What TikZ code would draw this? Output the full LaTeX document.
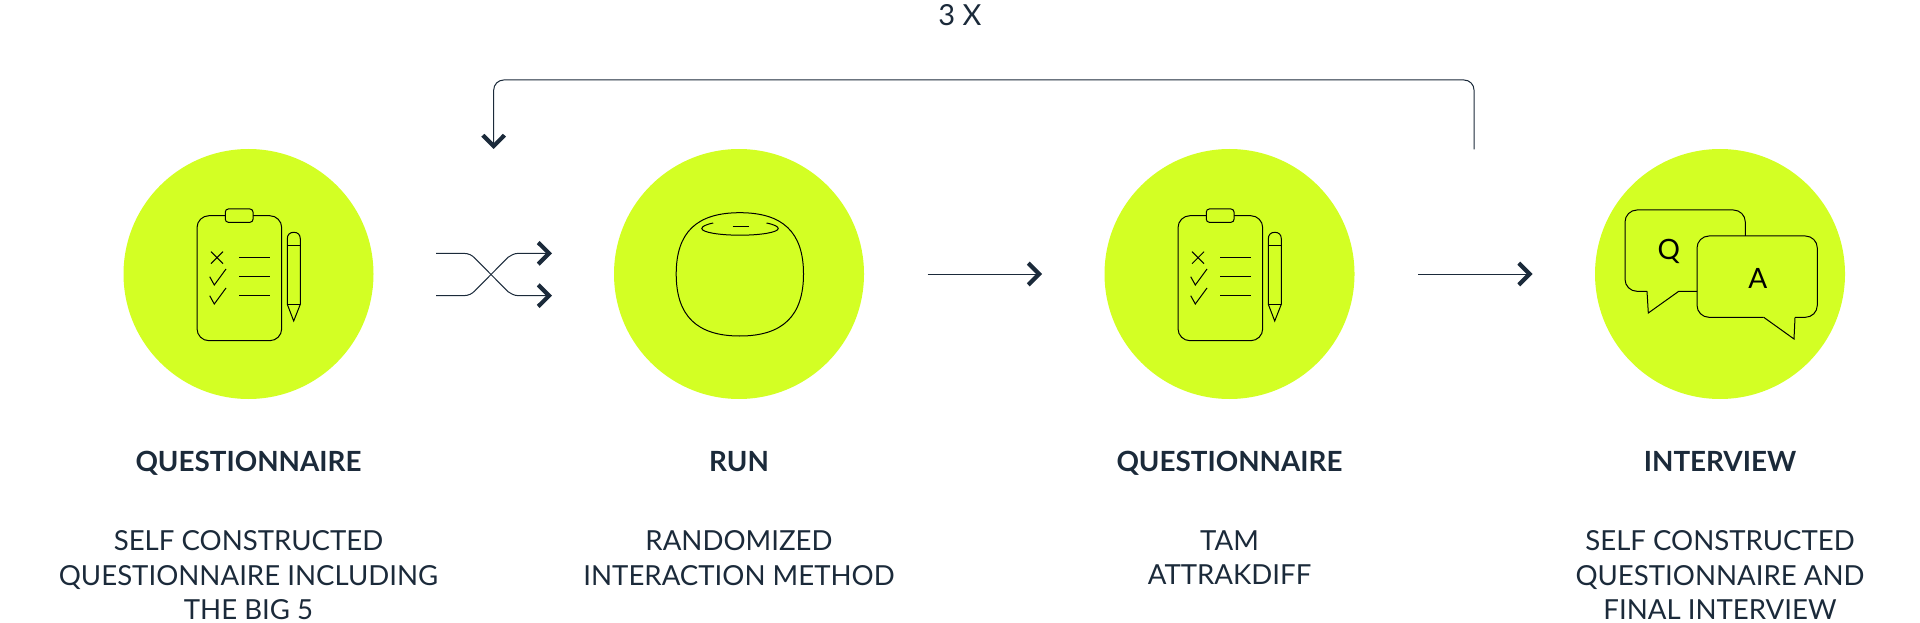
\documentclass[tikz,border=0pt]{standalone}
\usepackage{fontspec}
\setmainfont{Lato}
\usetikzlibrary{%
  arrows.meta, positioning
}
\usepackage{xcolor}
\definecolor{lime}{HTML}{D3FF24}
\definecolor{navy}{HTML}{1B2A3A}
\pgfdeclarearrow{%
  name=Chevron,
  setup code={%
    \pgfarrowssettipend{0pt}
    \pgfarrowssetlineend{-2pt}
    \pgfarrowssetvisualbackend{-7.6pt}
    \pgfarrowssetbackend{-7.6pt}
  },
  drawing code={%
    \pgfpathmoveto{\pgfpoint{0pt}{0pt}}
    \pgfpathlineto{\pgfpoint{-6.2pt}{6.2pt}}
    \pgfpathlineto{\pgfpoint{-7.6pt}{4.6pt}}
    \pgfpathlineto{\pgfpoint{-2.9pt}{0pt}}
    \pgfpathlineto{\pgfpoint{-7.6pt}{-4.6pt}}
    \pgfpathlineto{\pgfpoint{-6.2pt}{-6.2pt}}
    \pgfpathclose
    \pgfusepathqfill
  }
}
\tikzstyle{stepnode} = [%
  circle,
  fill=lime,
  minimum size=125pt,
  inner sep=0pt,
  outer sep=0pt
]
\tikzstyle{titlenode} = [%
  align=center,
  inner sep=0pt,
  text=navy,
  text height=10pt,
  text depth=3pt,
  font=\fontsize{13.9}{17.3}\selectfont\bfseries
]
\tikzstyle{textnode} = [%
  align=center,
  inner sep=0pt,
  text=navy,
  font=\fontsize{13.8}{17.2}\selectfont
]
\tikzset{%
  flow/.style={%
    draw=navy,
    line width=0.5pt,
    -Chevron
  },
  icon/.style={draw=black,line width=0.5pt},
  clipboard/.pic={%
    \draw[icon,rounded corners=6pt] (-51.5,-66.7) rectangle (33.2,58.3);
    \draw[icon,fill=lime,rounded corners=1.5pt] (-23.2,51.7) rectangle (4.5,65);
    % Cross and ticks
    \draw[icon] (-37.5,10.3) -- (-25.5,22.3) (-37.5,22.3) -- (-25.5,10.3);
    \draw[icon] (-38.8,-2.7) -- (-34.2,-11) -- (-22.5,5);
    \draw[icon] (-38.8,-21.7) -- (-34.2,-30) -- (-22.5,-14);
    % Lines
    \foreach \y in {16.7,-2.3,-21.3} {
      \draw[icon] (-9.5,\y) -- (21.5,\y);
    }
    % Pencil
    \draw[icon] (38.8,-30.3) -- (38.8,35.2) .. controls (38.8,39.5) and (41.5,41.7) .. (45.3,41.7)
      .. controls (49.1,41.7) and (51.8,39.5) .. (51.8,35.2) -- (51.8,-30.3) -- (45.2,-47) -- cycle;
    \draw[icon] (38.8,28.3) -- (51.8,28.3);
    \draw[icon] (38.8,-30.3) -- (51.8,-30.3);
  }
}

\begin{document}
\begin{tikzpicture}[x=0.5pt,y=0.5pt]

  \useasboundingbox (0,0) rectangle (1920,622);

  % Nodes
  \node[stepnode] (Q1) at (248.5,348) {};
  \node[stepnode,right=120.25pt of Q1] (R1) {};
  \node[stepnode,right=120.25pt of R1] (Q2) {};
  \node[stepnode,right=120.25pt of Q2] (I1) {};

  % Titles
  \node[titlenode,below=26pt of Q1] (T1) {QUESTIONNAIRE};
  \node[titlenode,below=26pt of R1] (T2) {RUN};
  \node[titlenode,below=26pt of Q2] (T3) {QUESTIONNAIRE};
  \node[titlenode,below=26pt of I1] (T4) {INTERVIEW};

  % Descriptions
  \node[textnode,below=26.3pt of T1] (D1) {SELF CONSTRUCTED\\QUESTIONNAIRE INCLUDING\\THE BIG 5};
  \node[textnode,below=26.3pt of T2] (D2) {RANDOMIZED\\INTERACTION METHOD};
  \node[textnode,below=26.3pt of T3] (D3) {TAM\\ATTRAKDIFF};
  \node[textnode,below=26.3pt of T4] (D4) {SELF CONSTRUCTED\\QUESTIONNAIRE AND\\FINAL INTERVIEW};

  \node[text=navy,font=\fontsize{14.5}{17.3}\selectfont] (L1) at (960,607) {3 X};

  % Icons
  \pic at (Q1) {clipboard};
  \pic at (Q2) {clipboard};

  \begin{scope}[shift={(R1)}]
    \draw[icon] (-62.8,0) .. controls (-62.8,42) and (-42,61.3) .. (0.8,61.3)
      .. controls (43.6,61.3) and (64.5,42) .. (64.5,0)
      .. controls (64.5,-42) and (43.6,-62) .. (0.8,-62)
      .. controls (-42,-62) and (-62.8,-42) .. (-62.8,0) -- cycle;
    \draw[icon] (-25.8,51) .. controls (-33,49.5) and (-37.2,47.5) .. (-37.2,45.5)
      .. controls (-37.2,41.7) and (-20,38.8) .. (1,38.8)
      .. controls (22,38.8) and (39.2,41.7) .. (39.2,45.5)
      .. controls (39.2,47.5) and (35,49.5) .. (27.5,51);
    \draw[icon] (-6.5,47.7) -- (9.5,47.7);
  \end{scope}

  \begin{scope}[shift={(I1)}]
    \draw[icon,rounded corners=6pt] (25.3,38) -- (25.3,64) -- (-95,64) -- (-95,-17.3) -- (-73,-17.3);
    \draw[icon] (-73,-17.3) -- (-71.7,-39) -- (-41.3,-17.3) -- (-23,-17.3);
    \draw[icon,rounded corners=6pt] (43.7,-43.3) -- (-23,-43.3) -- (-23,38) -- (97.3,38) -- (97.3,-43.3) -- (75,-43.3);
    \draw[icon] (75,-43.3) -- (74,-65) -- (43.7,-43.3);
    \node[font=\fontsize{14}{14}\selectfont,text=black,inner sep=0pt] (QM) at (-51.3,22.3) {Q};
    \node[font=\fontsize{14}{14}\selectfont,text=black,inner sep=0pt] (AM) at (37.7,-4.3) {A};
  \end{scope}

  % Shuffle edges
  \coordinate (SA) at (436,368.7);
  \coordinate (SB) at (436,326.3);
  \coordinate (SC) at (552,368.7);
  \coordinate (SD) at (552,326.3);
  \draw[flow] (SA) -- ++(27,0) .. controls (469,368.7) and (472,366.7) .. (475,363.7)
    -- (508,330.3) .. controls (511,328.3) and (514,326.3) .. (519,326.3) -- (SD);
  \draw[flow] (SB) -- ++(27,0) .. controls (469,326.3) and (472,328.3) .. (475,331.3)
    -- (508,364.7) .. controls (511,366.7) and (514,368.7) .. (519,368.7) -- (SC);

  % Straight edges
  \draw[flow,shorten <=31.75pt,shorten >=31.25pt] (R1) -- (Q2);
  \draw[flow,shorten <=31.75pt,shorten >=31.25pt] (Q2) -- (I1);

  % Loop edge
  \coordinate (LA) at (1474,472.6);
  \coordinate (LB) at (493.7,473);
  \draw[flow,rounded corners=5pt] (LA) -- (1474,542) -- (493.7,542) -- (LB);

\end{tikzpicture}
\end{document}
